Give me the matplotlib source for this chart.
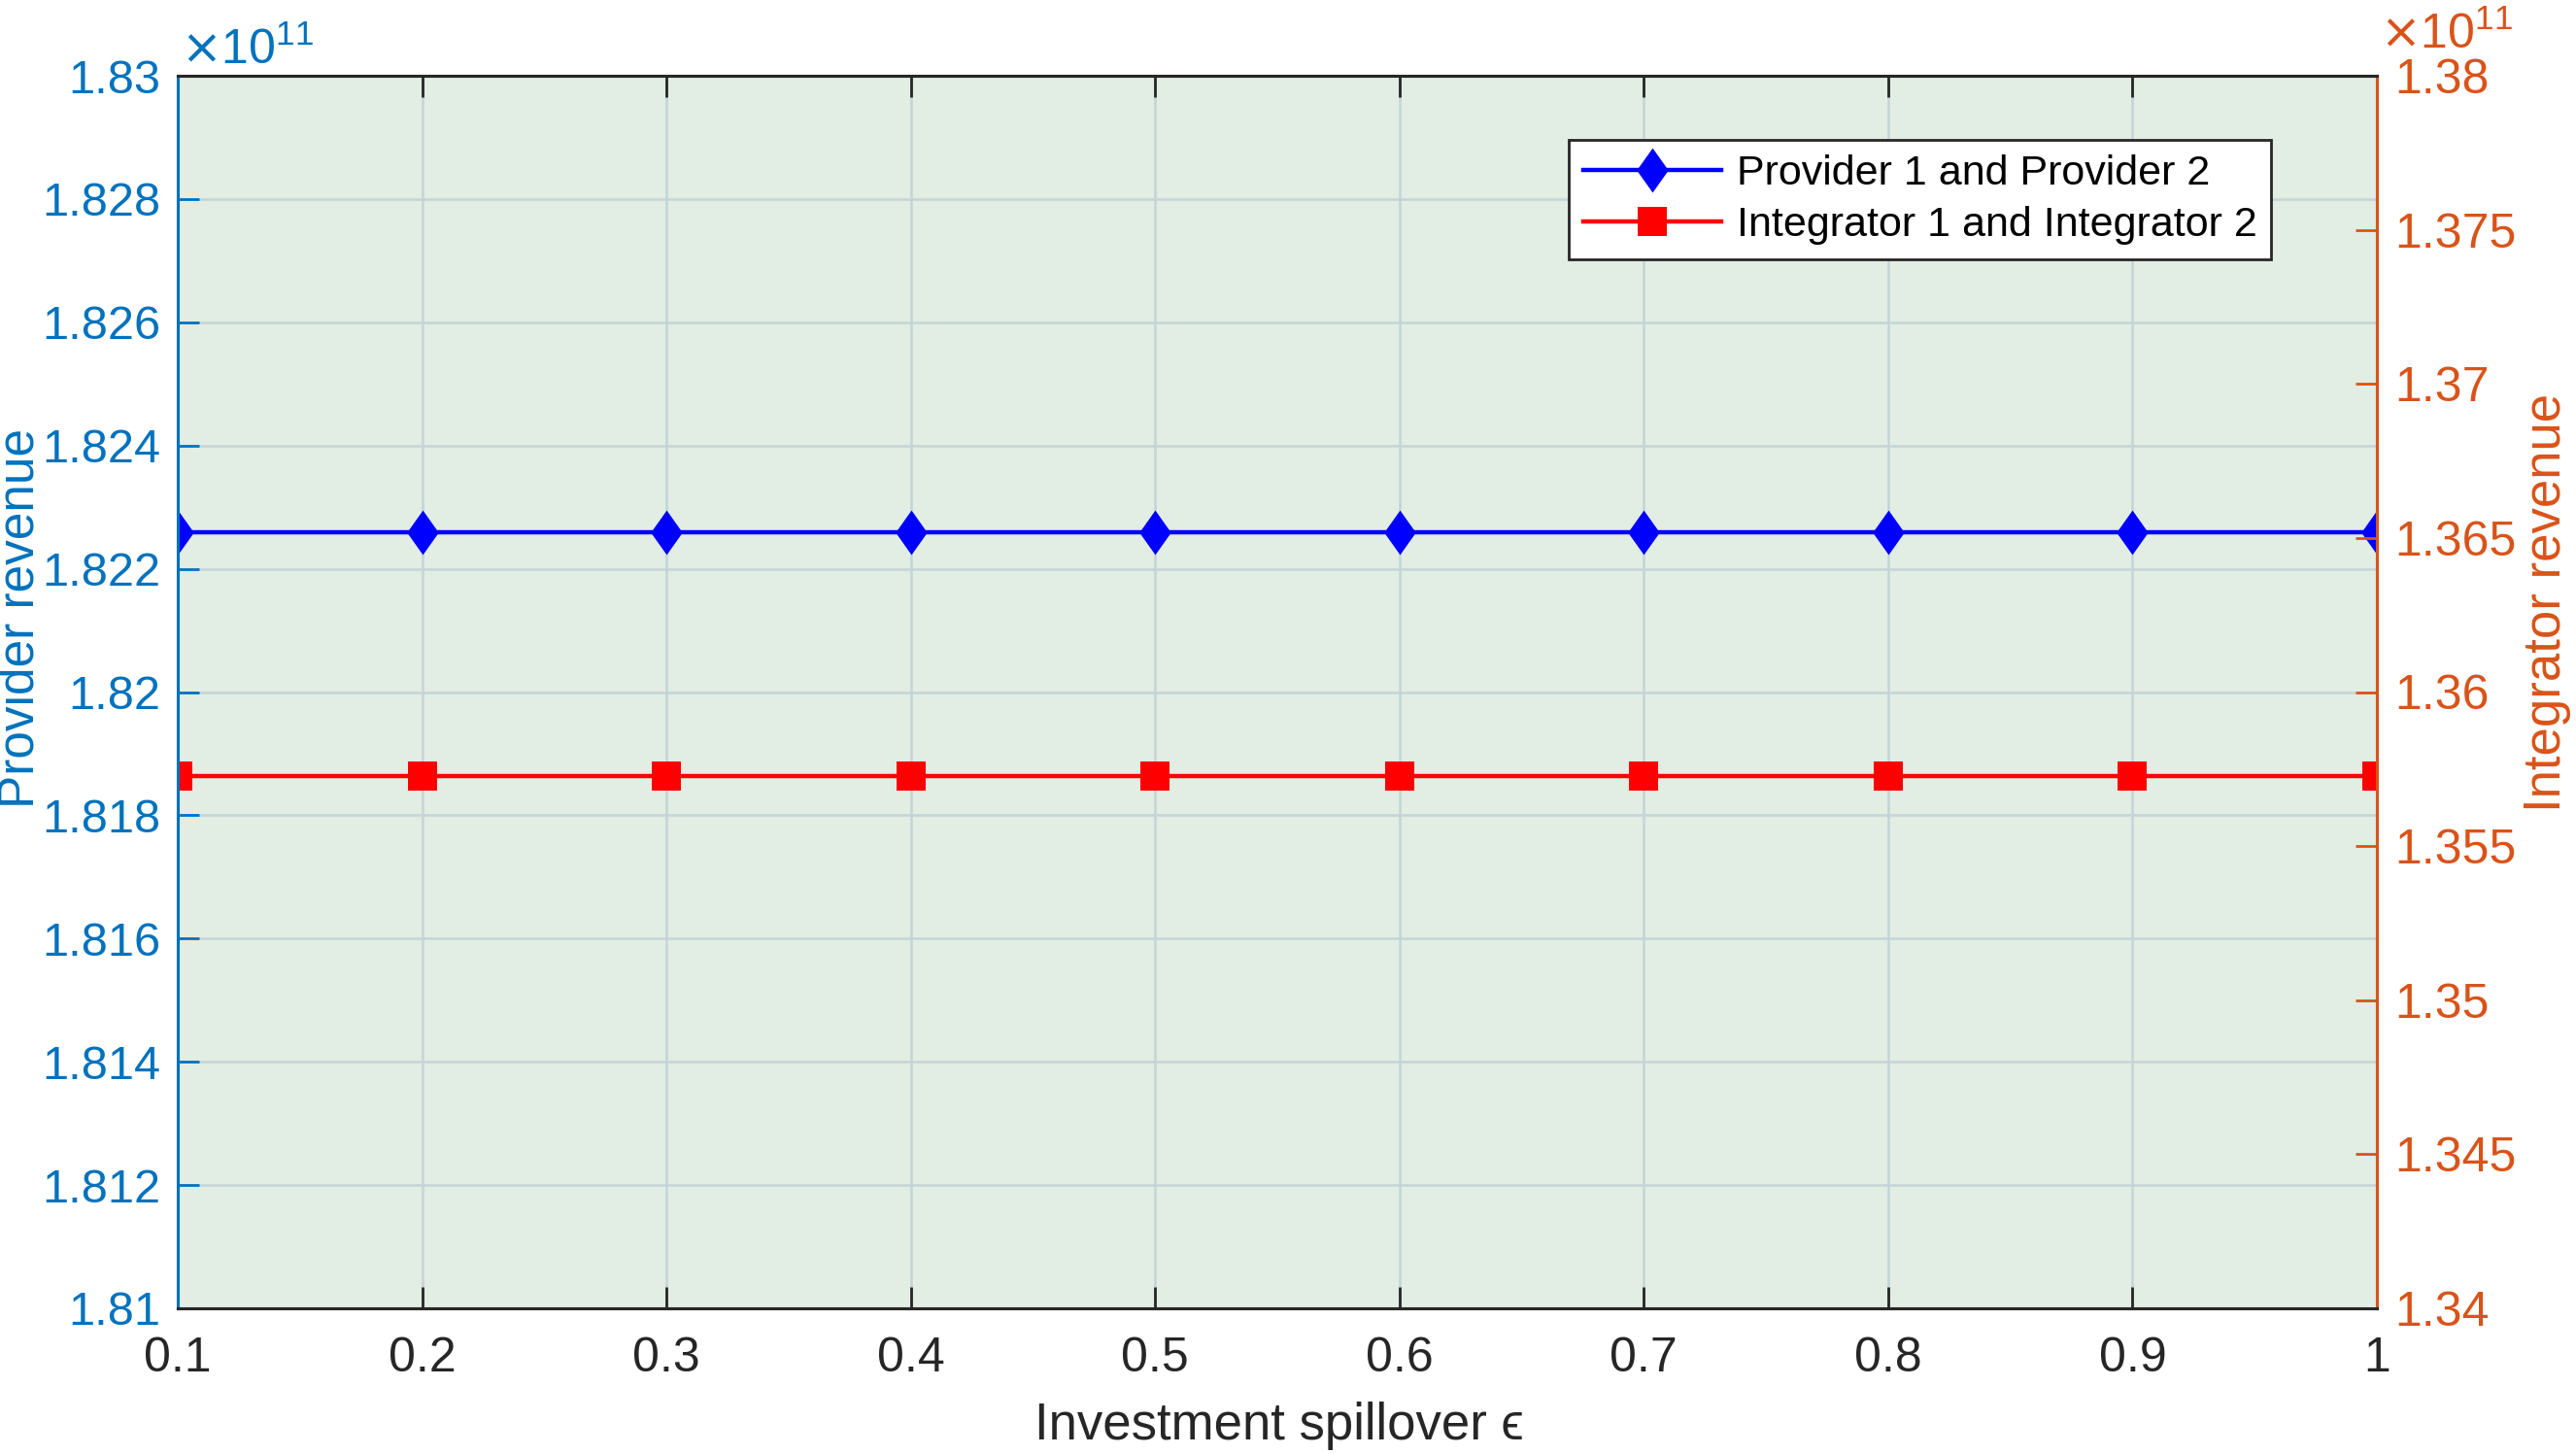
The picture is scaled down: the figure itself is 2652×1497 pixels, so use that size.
import matplotlib
matplotlib.use("Agg")
import matplotlib.pyplot as plt
from matplotlib.path import Path
from matplotlib.ticker import FuncFormatter

# ---- data ----
spillover = [0.1, 0.2, 0.3, 0.4, 0.5, 0.6, 0.7, 0.8, 0.9, 1.0]
provider_revenue = [1.8226e11, 1.8226e11, 1.8226e11, 1.8226e11, 1.8226e11,
                    1.8226e11, 1.8226e11, 1.8226e11, 1.8226e11, 1.8226e11]
integrator_revenue = [1.35726e11, 1.35726e11, 1.35726e11, 1.35726e11, 1.35726e11,
                      1.35726e11, 1.35726e11, 1.35726e11, 1.35726e11, 1.35726e11]
x_ticks = [0.1, 0.2, 0.3, 0.4, 0.5, 0.6, 0.7, 0.8, 0.9, 1.0]
left_ticks = [1.81e11, 1.812e11, 1.814e11, 1.816e11, 1.818e11, 1.82e11,
              1.822e11, 1.824e11, 1.826e11, 1.828e11, 1.83e11]
right_ticks = [1.34e11, 1.345e11, 1.35e11, 1.355e11, 1.36e11, 1.365e11,
               1.37e11, 1.375e11, 1.38e11]
labels = ["Provider 1 and Provider 2", "Integrator 1 and Integrator 2"]

plt.rcParams['font.family'] = ['Liberation Sans', 'DejaVu Sans']
plt.rcParams['mathtext.fontset'] = 'dejavusans'

LEFT_C = '#0072BD'
RIGHT_C = '#D95319'
DARK = '#262626'
BG = '#E2EDE3'
GRID = '#C3D5D8'

W, H = 2652, 1497
fig = plt.figure(figsize=(W / 100, H / 100), dpi=100)
ax = fig.add_axes([183 / W, 1 - 1347 / H, (2447 - 183) / W, (1347 - 78) / H])
ax2 = ax.twinx()
ax.set_facecolor(BG)

diamond = Path([(0, 1), (0.71, 0), (0, -1), (-0.71, 0), (0, 1)],
               [Path.MOVETO, Path.LINETO, Path.LINETO, Path.LINETO, Path.CLOSEPOLY])

l1, = ax.plot(spillover, provider_revenue, color='#0000FF', lw=3.2,
              marker=diamond, ms=33, mew=0)
l2, = ax2.plot(spillover, integrator_revenue, color='#FF0000', lw=3.2,
               marker='s', ms=21, mew=0)

ax.set_xlim(0.1, 1.0)
ax.set_ylim(1.81e11, 1.83e11)
ax2.set_ylim(1.34e11, 1.38e11)
ax.set_xticks(x_ticks)
ax.set_yticks(left_ticks)
ax2.set_yticks(right_ticks)

fmt = FuncFormatter(lambda v, p: f"{v / 1e11:g}")
ax.yaxis.set_major_formatter(fmt)
ax2.yaxis.set_major_formatter(fmt)
ax.xaxis.set_major_formatter(FuncFormatter(lambda v, p: f"{v:g}"))

ax.grid(True, color=GRID, lw=1.8)
ax.set_axisbelow(True)

ax.tick_params(axis='x', which='both', direction='in', length=16, width=2,
               color=DARK, labelcolor=DARK, labelsize=36, top=True, pad=21)
ax.tick_params(axis='y', direction='in', length=16, width=2, color=LEFT_C,
               labelcolor=LEFT_C, labelsize=35, pad=13)
ax2.tick_params(axis='y', direction='in', length=16, width=2, color=RIGHT_C,
                labelcolor=RIGHT_C, labelsize=36, pad=13)

for a in (ax, ax2):
    a.spines['top'].set_color(DARK)
    a.spines['bottom'].set_color(DARK)
    a.spines['left'].set_color(LEFT_C)
    a.spines['right'].set_color(RIGHT_C)
    for s in a.spines.values():
        s.set_linewidth(2.2)

fig.text(1317 / W, 1 - 1468 / H, 'Investment spillover \u03f5',
         ha='center', va='center', fontsize=38, color=DARK)
fig.text(21 / W, 1 - 637 / H, 'Provider revenue', rotation=90,
         ha='center', va='center', fontsize=37, color=LEFT_C)
fig.text(2622 / W, 1 - 620 / H, 'Integrator revenue', rotation=90,
         ha='center', va='center', fontsize=38, color=RIGHT_C)

fig.text(186 / W, 1 - 66 / H, '$\\times\\mathregular{10^{11}}$',
         ha='left', va='baseline', fontsize=36, color=LEFT_C)
fig.text(2450 / W, 1 - 50 / H, '$\\times\\mathregular{10^{11}}$',
         ha='left', va='baseline', fontsize=36, color=RIGHT_C)

leg = ax2.legend([l1, l2], labels, loc='upper right',
                 bbox_to_anchor=(0.952, 0.948), fontsize=31,
                 frameon=True, fancybox=False, framealpha=1,
                 edgecolor=DARK, handlelength=3.3, handletextpad=0.35,
                 borderpad=0.35, labelspacing=0.3, borderaxespad=0)
leg.get_frame().set_linewidth(2)

fig.savefig('out.png', dpi=100)
